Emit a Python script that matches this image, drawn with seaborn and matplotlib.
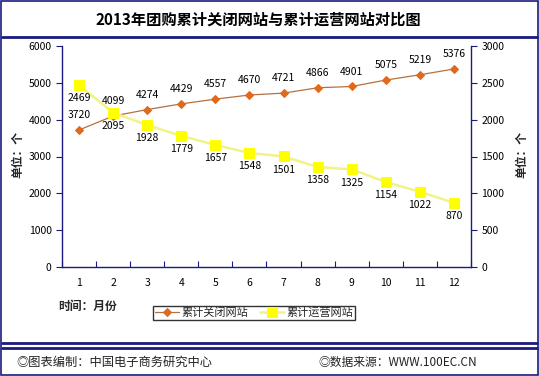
import matplotlib
matplotlib.use("Agg")
import matplotlib.pyplot as plt
import seaborn as sns
import pandas as pd
from matplotlib.lines import Line2D
from matplotlib.patches import Rectangle

months = [1, 2, 3, 4, 5, 6, 7, 8, 9, 10, 11, 12]
closed_sites = [3720, 4099, 4274, 4429, 4557, 4670, 4721, 4866, 4901, 5075, 5219, 5376]
operating_sites = [2469, 2095, 1928, 1779, 1657, 1548, 1501, 1358, 1325, 1154, 1022, 870]
left_ticks = [0, 1000, 2000, 3000, 4000, 5000, 6000]
right_ticks = [0, 500, 1000, 1500, 2000, 2500, 3000]

title = "2013年团购累计关闭网站与累计运营网站对比图"
name_closed = "累计关闭网站"
name_oper = "累计运营网站"

sns.set_theme(style="white")
plt.rcParams['font.family'] = ['Noto Sans CJK SC', 'DejaVu Sans']

W, H = 539, 376
fig = plt.figure(figsize=(W / 100, H / 100), dpi=100)
fig.patch.set_facecolor("white")

def fx(x): return x / W
def fy(y): return 1 - y / H

navy = "#1a1a80"
# border
fig.add_artist(Rectangle((fx(1), fy(375)), fx(537), 374 / H, fill=False, edgecolor=navy, lw=1.2, transform=fig.transFigure))
fig.add_artist(Line2D([fx(2), fx(537)], [fy(37), fy(37)], color=navy, lw=2, transform=fig.transFigure))
fig.add_artist(Line2D([fx(2), fx(537)], [fy(343), fy(343)], color=navy, lw=2, transform=fig.transFigure))
fig.add_artist(Line2D([fx(2), fx(537)], [fy(348), fy(348)], color=navy, lw=2, transform=fig.transFigure))

fig.text(fx(258), fy(20), title, ha="center", va="center", fontsize=11, fontweight="bold", color="black")

ax = fig.add_axes([fx(62), fy(267), fx(471 - 62), (267 - 46) / H])
ax2 = ax.twinx()

df = pd.DataFrame({"month": months, "closed": closed_sites, "oper": operating_sites})

closed_line = "#b5703f"
closed_mark = "#e0691c"
oper_line = "#f2f28a"
oper_mark = "#ffff00"

sns.lineplot(data=df, x="month", y="closed", ax=ax, color=closed_line, lw=0.9,
             marker="D", markersize=4.5, markerfacecolor=closed_mark, markeredgecolor=closed_mark, label=name_closed)
sns.lineplot(data=df, x="month", y="oper", ax=ax2, color=oper_line, lw=1.8,
             marker="s", markersize=6.5, markerfacecolor=oper_mark, markeredgecolor=oper_mark, label=name_oper)

for m, v in zip(months, closed_sites):
    ax.annotate(str(v), (m, v), xytext=(0, 7), textcoords="offset points", ha="center", va="bottom", fontsize=7.5, color="black")
for m, v in zip(months, operating_sites):
    ax2.annotate(str(v), (m, v), xytext=(0, -6), textcoords="offset points", ha="center", va="top", fontsize=7.5, color="black")

ax.set_xlim(0.5, 12.5)
ax.set_ylim(0, 6000)
ax2.set_ylim(0, 3000)
ax.set_yticks(left_ticks)
ax2.set_yticks(right_ticks)
ax.set_xticks(months)
ax.set_xticks([m + 0.5 for m in [0] + months], minor=True)
ax.tick_params(axis="x", which="major", length=0, labelsize=7.5, pad=8, colors="black")
ax.tick_params(axis="x", which="minor", length=4, width=0.8, color=navy, direction="in", bottom=True)
ax.tick_params(axis="y", length=4, width=0.8, color=navy, direction="out", labelsize=7.5, labelcolor="black", left=True)
ax2.tick_params(axis="y", length=4, width=0.8, color=navy, direction="out", labelsize=7.5, labelcolor="black", right=True)
ax.set_xlabel("")
ax.set_ylabel("")
ax2.set_ylabel("")

for a in (ax, ax2):
    for s in a.spines.values():
        s.set_visible(False)
ax.spines["left"].set_visible(True)
ax.spines["left"].set_color(navy)
ax.spines["bottom"].set_visible(True)
ax.spines["bottom"].set_color(navy)
ax2.spines["right"].set_visible(True)
ax2.spines["right"].set_color(navy)
for s in ("left", "bottom"):
    ax.spines[s].set_linewidth(1.0)
ax2.spines["right"].set_linewidth(1.0)

fig.text(fx(18), fy(155), "单位：个", rotation=90, ha="center", va="center", fontsize=8.5, fontweight="bold")
fig.text(fx(522), fy(155), "单位：个", rotation=90, ha="center", va="center", fontsize=8.5, fontweight="bold")
fig.text(fx(58), fy(306), "时间：月份", ha="left", va="center", fontsize=8.5, fontweight="bold")

h1, l1 = ax.get_legend_handles_labels()
h2, l2 = ax2.get_legend_handles_labels()
if ax.get_legend(): ax.get_legend().remove()
if ax2.get_legend(): ax2.get_legend().remove()
leg = fig.legend(h1 + h2, l1 + l2, loc="center", bbox_to_anchor=(fx(254), fy(313)), ncol=2,
                 fontsize=8, frameon=True, fancybox=False, handlelength=2.2, handletextpad=0.2,
                 columnspacing=1.0, borderpad=0.2, borderaxespad=0)
leg.get_frame().set_edgecolor("black")
leg.get_frame().set_linewidth(1.0)

fig.text(fx(16), fy(362), "◎图表编制：中国电子商务研究中心", ha="left", va="center", fontsize=8.8, color="#222222")
fig.text(fx(318), fy(362), "◎数据来源：WWW.100EC.CN", ha="left", va="center", fontsize=8.5, color="#222222")

fig.savefig("out.png", dpi=100, facecolor="white")
